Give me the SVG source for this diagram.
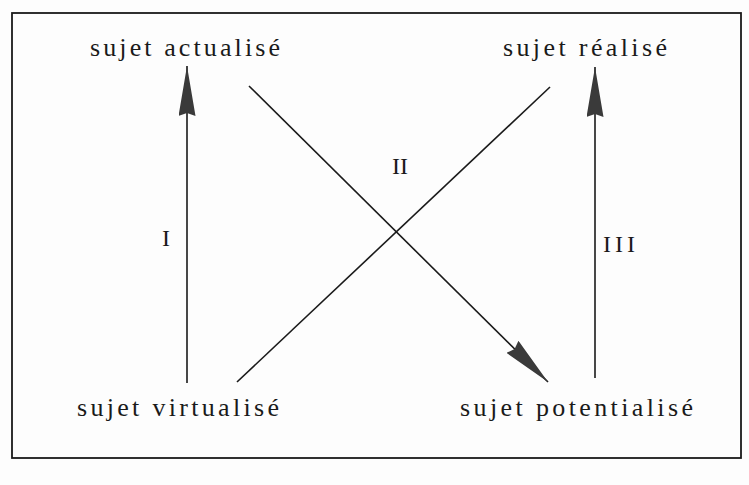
<svg xmlns="http://www.w3.org/2000/svg" width="749" height="485" viewBox="0 0 749 485">
<style>
.lbl{font-family:"Liberation Serif","Times New Roman",serif;font-size:26px;fill:#1a1a1a}
.num{font-family:"Liberation Serif","Times New Roman",serif;font-size:24px;fill:#1a1a1a}
.ln{stroke:#1a1a1a;stroke-width:1.6;fill:none}
</style>
<defs>
<marker id="ah" viewBox="0 0 50 17" refX="50" refY="8.5" markerWidth="50" markerHeight="17" markerUnits="userSpaceOnUse" orient="auto">
<path d="M0,0 L50,8.5 L0,17 L3,8.5 Z" fill="#3a3a3a"/>
</marker>
</defs>
<rect x="0" y="0" width="749" height="485" fill="#fdfdfd"/>
<rect x="12" y="13" width="729" height="445" fill="none" stroke="#1a1a1a" stroke-width="1.8"/>
<g id="connectors">
<line class="ln" x1="187" y1="383" x2="187" y2="66" marker-end="url(#ah)"/>
<line class="ln" x1="595" y1="378" x2="595" y2="67" marker-end="url(#ah)"/>
<line class="ln" x1="249" y1="86" x2="548" y2="382" marker-end="url(#ah)"/>
<line class="ln" x1="550" y1="87" x2="237" y2="382"/>
</g>
<g id="n-actualise"><text class="lbl" x="90" y="56" textLength="190" lengthAdjust="spacing">sujet actualisé</text></g>
<g id="n-realise"><text class="lbl" x="503" y="56" textLength="164" lengthAdjust="spacing">sujet réalisé</text></g>
<g id="n-virtualise"><text class="lbl" x="77" y="416" textLength="202" lengthAdjust="spacing">sujet virtualisé</text></g>
<g id="n-potentialise"><text class="lbl" x="460" y="416" textLength="233" lengthAdjust="spacing">sujet potentialisé</text></g>
<g id="labels">
<text class="num" x="162" y="246">I</text>
<text class="num" x="392" y="174">II</text>
<text class="num" x="603" y="252" textLength="32" lengthAdjust="spacing">III</text>
</g>
</svg>
